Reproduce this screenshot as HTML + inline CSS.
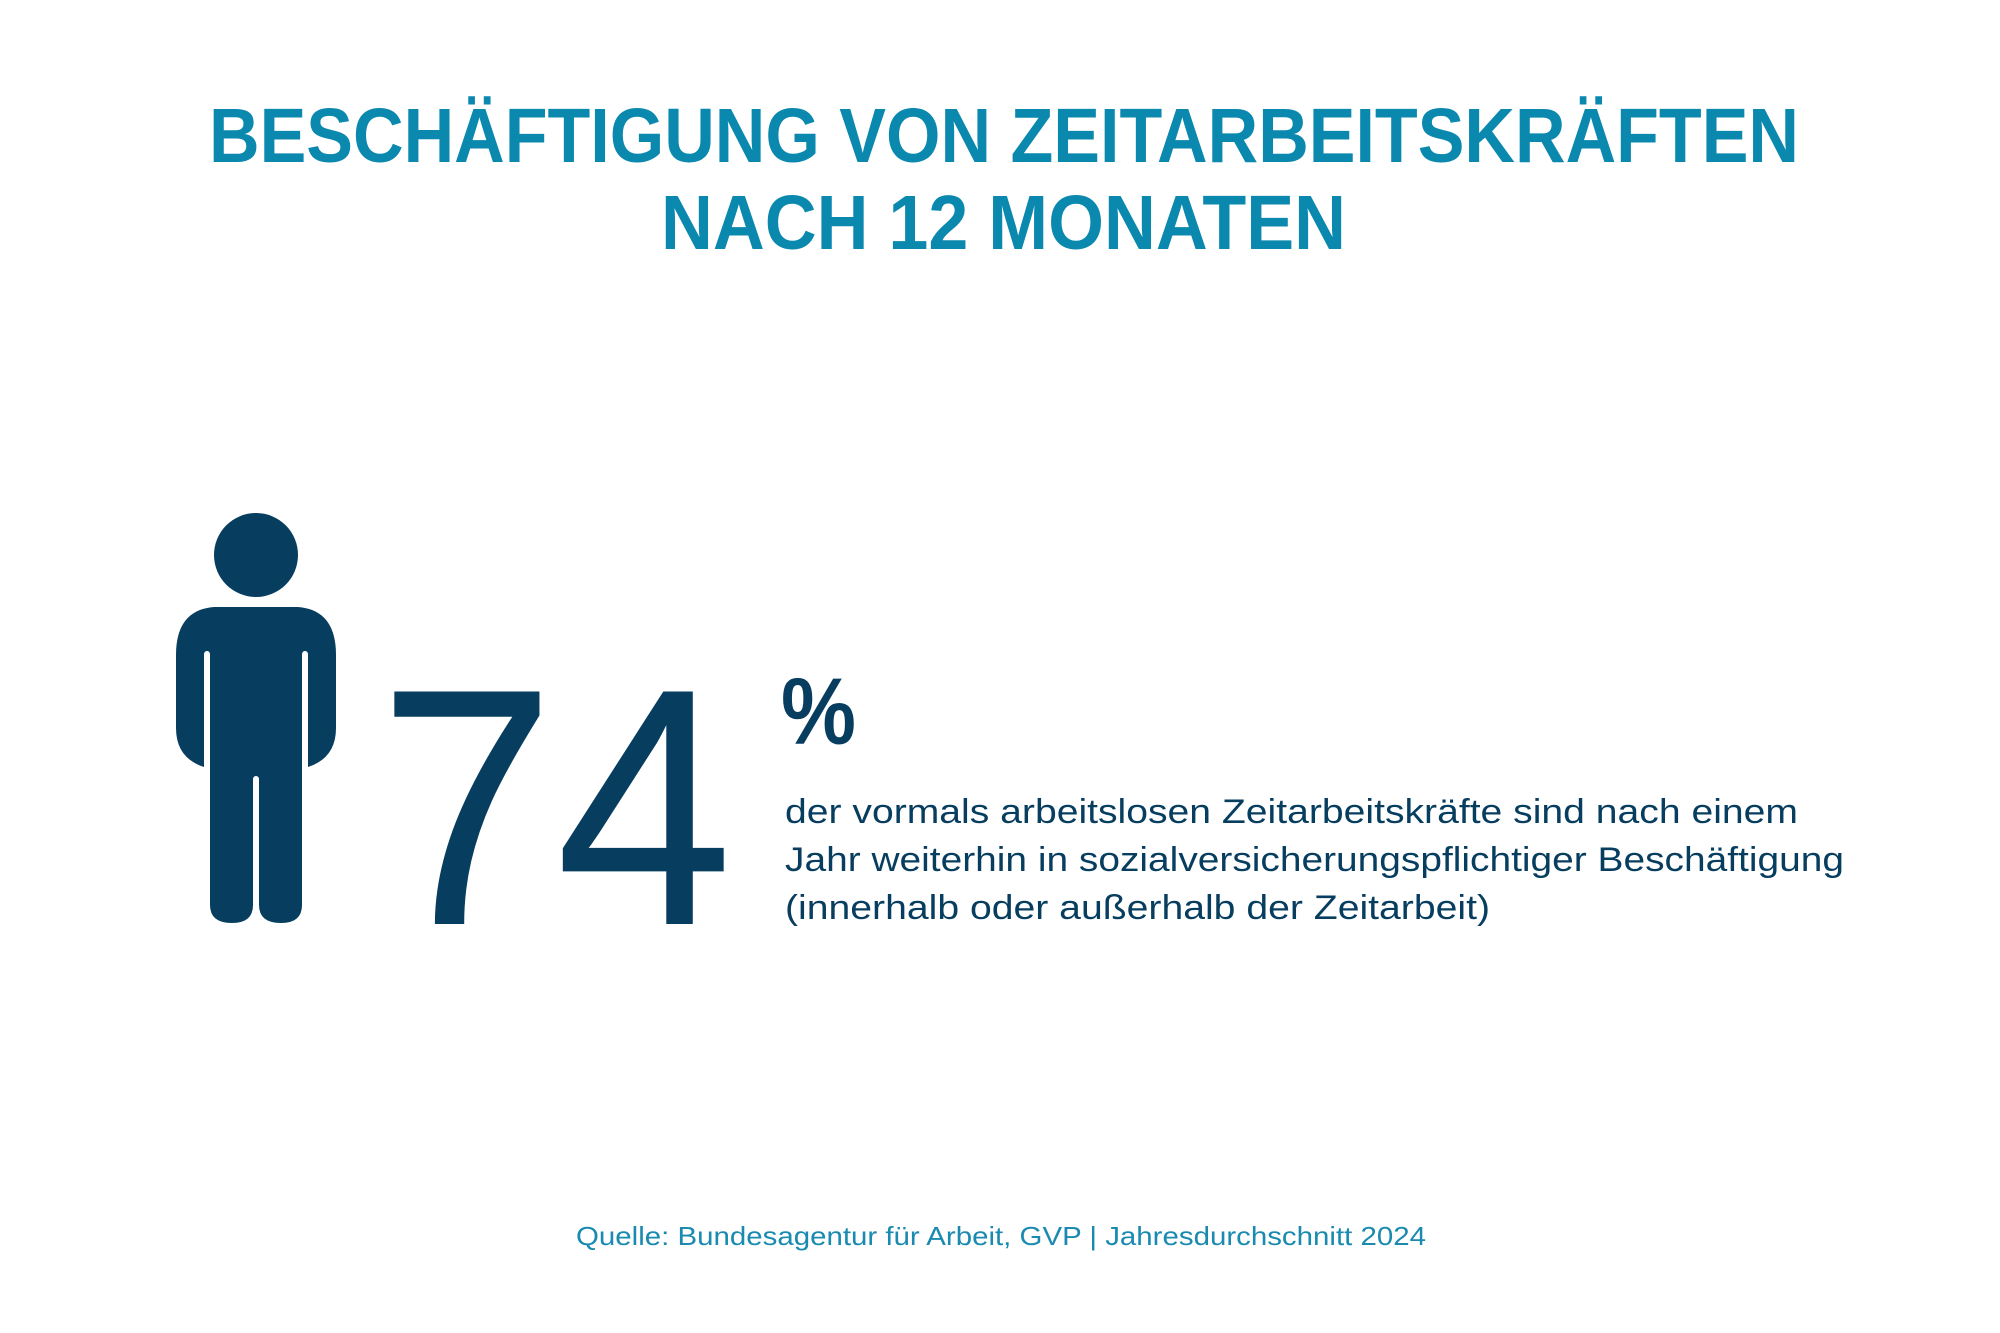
<!DOCTYPE html>
<html><head><meta charset="utf-8"><style>
html,body{margin:0;padding:0;background:#fff;}
svg{display:block;}
</style></head><body>
<svg width="2000" height="1333" viewBox="0 0 2000 1333" xmlns="http://www.w3.org/2000/svg">
<rect width="2000" height="1333" fill="#fff"/>
<g font-family="Liberation Sans, DejaVu Sans, sans-serif" fill="#0a88ae" font-weight="bold" font-size="77">
<text x="209" y="162" textLength="1590" lengthAdjust="spacingAndGlyphs">BESCHÄFTIGUNG VON ZEITARBEITSKRÄFTEN</text>
<text x="661" y="249" textLength="685" lengthAdjust="spacingAndGlyphs">NACH 12 MONATEN</text>
</g>
<g fill="#073d5f">
<circle cx="256" cy="555" r="42"/>
<path d="M214 607 H298 Q336 610 336 655 V728 Q336 758 308 767 V655 Q308 651 305 651 Q302 651 302 655 V775 H210 V655 Q210 651 207 651 Q204 651 204 655 V767 Q176 758 176 728 V655 Q176 610 214 607 Z"/>
<path d="M210 770 H253 V905 Q253 923 232 923 Q210 923 210 905 Z"/>
<path d="M259 770 H302 V905 Q302 923 281 923 Q259 923 259 905 Z"/>
<rect x="210" y="760" width="92" height="20"/>
<rect x="253" y="776" width="6" height="150" fill="#fff" rx="3"/>
</g>
<g font-family="Liberation Sans, DejaVu Sans, sans-serif" fill="#073d5f">
<text x="378" y="924" font-size="338" textLength="355" lengthAdjust="spacingAndGlyphs">74</text>
<text x="781" y="744" font-size="95" font-weight="bold" textLength="75" lengthAdjust="spacingAndGlyphs">%</text>
<g font-size="34">
<text x="785" y="823" textLength="1013" lengthAdjust="spacingAndGlyphs">der vormals arbeitslosen Zeitarbeitskräfte sind nach einem</text>
<text x="785" y="871" textLength="1059" lengthAdjust="spacingAndGlyphs">Jahr weiterhin in sozialversicherungspflichtiger Beschäftigung</text>
<text x="785" y="919" textLength="705" lengthAdjust="spacingAndGlyphs">(innerhalb oder außerhalb der Zeitarbeit)</text>
</g>
</g>
<text x="576" y="1245" font-family="Liberation Sans, DejaVu Sans, sans-serif" font-size="26" fill="#1a8ab0" textLength="850" lengthAdjust="spacingAndGlyphs">Quelle: Bundesagentur für Arbeit, GVP | Jahresdurchschnitt 2024</text>
</svg>
</body></html>
